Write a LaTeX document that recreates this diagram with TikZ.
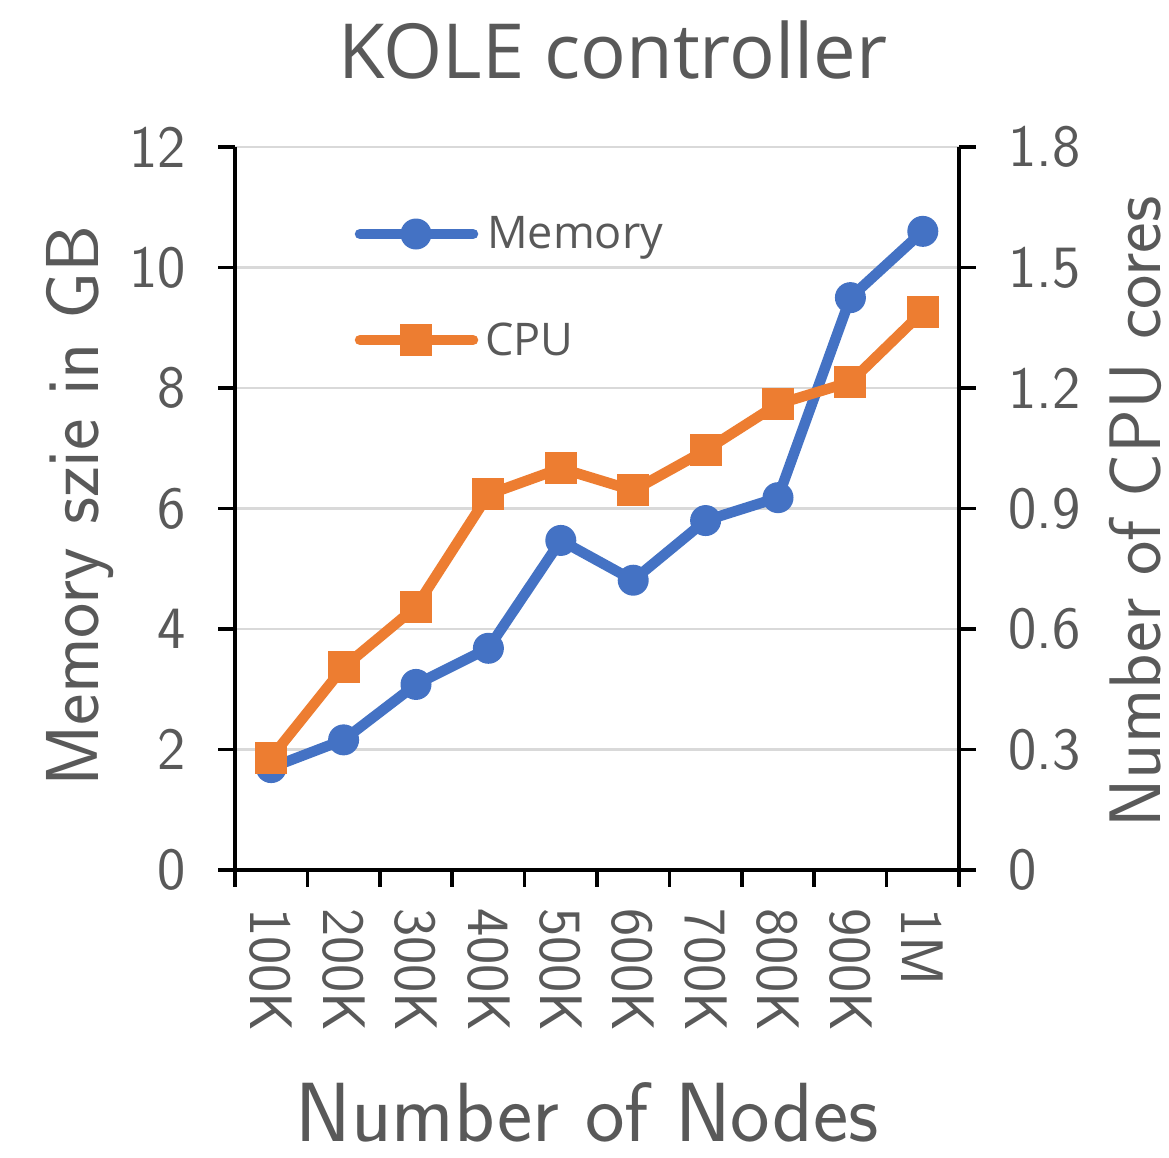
\documentclass[tikz,border=0pt]{standalone}
\usepackage{fontspec}
\newfontfamily\uifont{Open Sans}
\definecolor{memblue}{HTML}{4472C4}
\definecolor{cpuorange}{HTML}{ED7D31}
\definecolor{txtgray}{HTML}{595959}
\definecolor{gridgray}{HTML}{D9D9D9}
\begin{document}
\begin{tikzpicture}[x=1pt,y=-1pt,
  axisline/.style={line width=3.5pt,black},
  gridline/.style={line width=2.5pt,gridgray},
  memline/.style={line width=10.5pt,memblue,line join=round,line cap=round},
  cpuline/.style={line width=10.5pt,cpuorange,line join=round,line cap=round},
  memdot/.style={circle,fill=memblue,minimum size=31pt,inner sep=0pt},
  cpusq/.style={rectangle,fill=cpuorange,minimum size=32pt,inner sep=0pt},
  ticklbl/.style={inner sep=0pt,text=txtgray,font=\sffamily\fontsize{60}{64}\selectfont},
  axtitle/.style={inner sep=0pt,text depth=0pt,text=txtgray,font=\sffamily\fontsize{75}{80}\selectfont},
  legtext/.style={inner sep=0pt,text=txtgray,font=\uifont\fontsize{45}{50}\selectfont}]
\useasboundingbox[fill=white] (0,0) rectangle (1169,1157);

% horizontal grid
\foreach \k in {1,...,6}
  \draw[gridline] (235,{870-120.5*\k}) -- (959,{870-120.5*\k});

% axes and ticks
\draw[axisline] (218,870) -- (976,870);
\draw[axisline] (235,147) -- (235,870);
\draw[axisline] (959,147) -- (959,870);
\foreach \k in {0,...,6} {
  \draw[axisline] (218,{870-120.5*\k}) -- (235,{870-120.5*\k});
  \draw[axisline] (959,{870-120.5*\k}) -- (976,{870-120.5*\k});
}
\foreach \k in {0,...,10}
  \draw[axisline] ({235+72.4*\k},870) -- ({235+72.4*\k},887);

% left tick labels
\foreach \v [count=\k from 0] in {0,2,4,6,8,10,12}
  \node[ticklbl,anchor=east] (yl\k) at (186,{870-120.5*\k}) {\v};
% right tick labels
\foreach \v [count=\k from 0] in {0,0.3,0.6,0.9,1.2,1.5,1.8}
  \node[ticklbl,anchor=west] (yr\k) at (1008,{870-120.5*\k}) {\v};
% category labels
\foreach \c [count=\i] in {100K,200K,300K,400K,500K,600K,700K,800K,900K,1M}
  \node[ticklbl,rotate=-90,anchor=west] (xl\i) at ({235+72.4*(\i-0.5)},908) {\c};

% titles
\node[inner sep=0pt,text=txtgray,font=\uifont\fontsize{76}{80}\selectfont,anchor=base] (title) at (613,78) {KOLE controller};
\node[axtitle,font=\sffamily\fontsize{84}{88}\selectfont,anchor=base] (xtitle) at (587,1141) {Number of Nodes};
\node[axtitle,rotate=90] (ytitle) at (72,506) {Memory szie in GB};
\node[axtitle,font=\sffamily\fontsize{73}{78}\selectfont,rotate=90,anchor=south] (y2title) at (1161,512) {Number of CPU cores};

% memory series (left axis)
\begin{scope}[shift={(235,870)},x=72.4pt,y=60.25pt]
  \foreach \v [count=\i] in {1.7,2.16,3.08,3.68,5.47,4.81,5.8,6.18,9.5,10.6}
    \coordinate (m\i) at ({\i-0.5},\v);
\end{scope}
\draw[memline] (m1) \foreach \i in {2,...,10} {-- (m\i)};
\foreach \i in {1,...,10} \node[memdot] (md\i) at (m\i) {};

% CPU series (right axis)
\begin{scope}[shift={(235,870)},x=72.4pt,y=401.67pt]
  \foreach \v [count=\i] in {0.28,0.505,0.655,0.935,1.0,0.945,1.045,1.16,1.215,1.39}
    \coordinate (c\i) at ({\i-0.5},\v);
\end{scope}
\draw[cpuline] (c1) \foreach \i in {2,...,10} {-- (c\i)};
\foreach \i in {1,...,10} \node[cpusq] (cs\i) at (c\i) {};

% legend
\coordinate (lm0) at (360,234); \coordinate (lm1) at (473,234);
\draw[memline] (lm0) -- (lm1);
\node[memdot] (lmd) at (416,234) {};
\node[legtext,anchor=base west] (lmt) at (487,248) {Memory};
\coordinate (lc0) at (360,340); \coordinate (lc1) at (473,340);
\draw[cpuline] (lc0) -- (lc1);
\node[cpusq] (lcs) at (416,340) {};
\node[legtext,anchor=base west] (lct) at (485,355) {CPU};
\end{tikzpicture}
\end{document}
